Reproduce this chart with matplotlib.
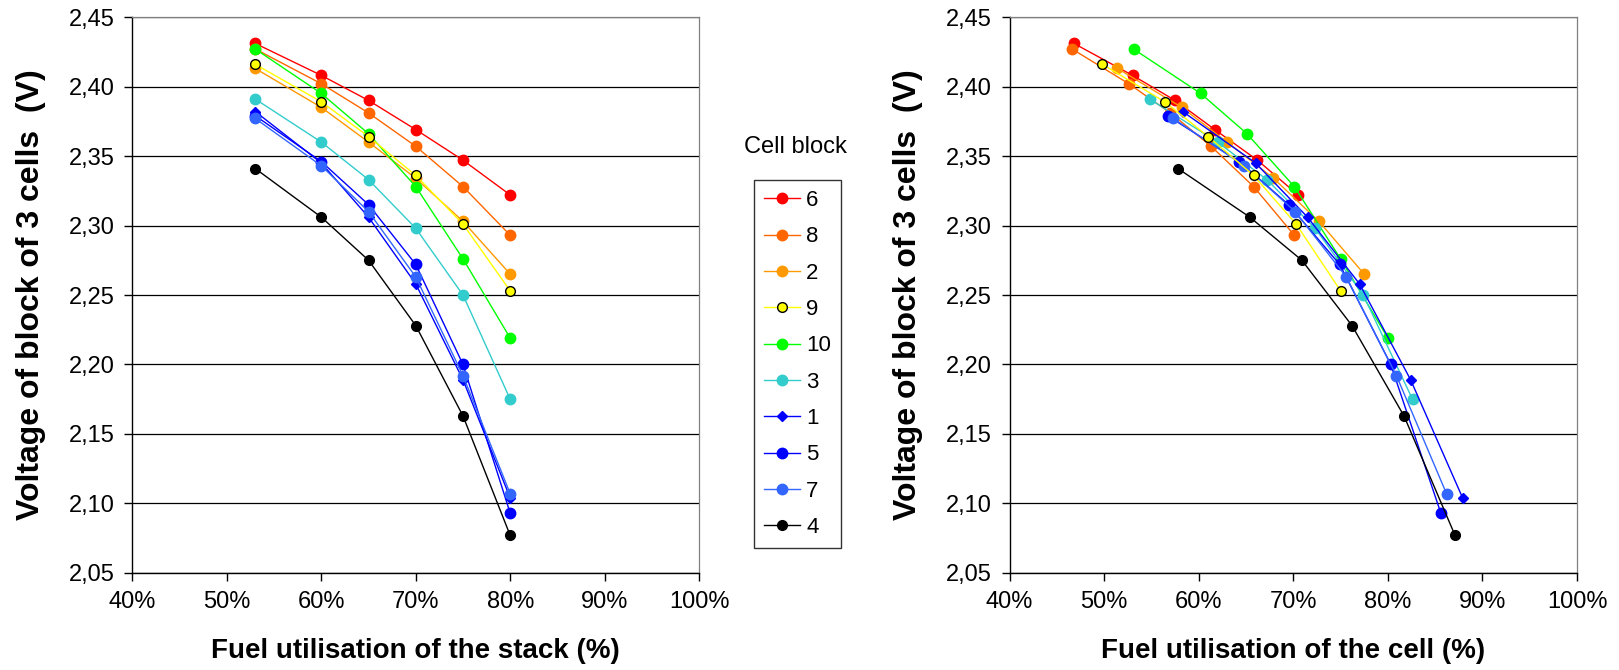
import matplotlib
matplotlib.use("Agg")
import matplotlib.pyplot as plt
from matplotlib.ticker import FixedLocator

plt.rcParams['font.family'] = ['Liberation Sans', 'DejaVu Sans']

# ---------------- data ----------------
blocks = ["6", "8", "2", "9", "10", "3", "1", "5", "7", "4"]

# fuel utilisation of the stack (%), same for every block
stack_util = [53, 60, 65, 70, 75, 80]

# voltage of block of 3 cells (V)
v6 = [2.431, 2.408, 2.390, 2.369, 2.347, 2.322]
v8 = [2.427, 2.402, 2.381, 2.357, 2.328, 2.293]
v2 = [2.413, 2.385, 2.360, 2.334, 2.303, 2.265]
v9 = [2.416, 2.389, 2.364, 2.336, 2.301, 2.253]
v10 = [2.427, 2.395, 2.366, 2.328, 2.276, 2.219]
v3 = [2.391, 2.360, 2.333, 2.298, 2.250, 2.175]
v1 = [2.382, 2.345, 2.306, 2.258, 2.189, 2.104]
v5 = [2.379, 2.346, 2.315, 2.272, 2.200, 2.093]
v7 = [2.377, 2.343, 2.310, 2.263, 2.192, 2.107]
v4 = [2.341, 2.306, 2.275, 2.228, 2.163, 2.077]

# fuel utilisation of the cell (%)
c6 = [46.8, 53.0, 57.5, 61.7, 66.2, 70.5]
c8 = [46.6, 52.6, 57.0, 61.3, 65.8, 70.1]
c2 = [51.4, 58.2, 63.0, 67.9, 72.7, 77.5]
c9 = [49.8, 56.4, 61.0, 65.8, 70.3, 75.0]
c10 = [53.1, 60.2, 65.1, 70.1, 75.0, 80.0]
c3 = [54.8, 62.0, 67.2, 72.3, 77.4, 82.6]
c1 = [58.3, 66.0, 71.5, 77.0, 82.4, 87.9]
c5 = [56.7, 64.3, 69.5, 74.9, 80.3, 85.6]
c7 = [57.3, 64.8, 70.2, 75.6, 80.9, 86.2]
c4 = [57.8, 65.4, 70.9, 76.2, 81.7, 87.1]

voltages = [v6, v8, v2, v9, v10, v3, v1, v5, v7, v4]
cell_util = [c6, c8, c2, c9, c10, c3, c1, c5, c7, c4]

x_ticks = [40, 50, 60, 70, 80, 90, 100]
y_ticks = [2.05, 2.10, 2.15, 2.20, 2.25, 2.30, 2.35, 2.40, 2.45]
x_ticklabels = ["40%", "50%", "60%", "70%", "80%", "90%", "100%"]
y_ticklabels = ["2,05", "2,10", "2,15", "2,20", "2,25", "2,30", "2,35", "2,40", "2,45"]

# ---------------- styles ----------------
colors = ["#FF0000", "#FF6600", "#FF9900", "#FFFF00", "#00FF00",
          "#33CCCC", "#0000FF", "#0000FF", "#3366FF", "#000000"]
markers = ["o", "o", "o", "o", "o", "o", "D", "o", "o", "o"]
msizes = [7.5, 7.5, 7.5, 7.0, 7.5, 7.5, 5.0, 7.5, 7.5, 7.0]
edgecols = ["#FF0000", "#FF6600", "#FF9900", "#000000", "#00FF00",
            "#33CCCC", "#0000FF", "#0000FF", "#3366FF", "#000000"]

fig = plt.figure(figsize=(16.19, 6.70), dpi=100)
ax1 = fig.add_axes([0.0818, 0.1448, 0.3500, 0.8298])
ax2 = fig.add_axes([0.6236, 0.1448, 0.3505, 0.8298])

def style_axis(ax, xlabel):
    ax.set_xlim(40, 100)
    ax.set_ylim(2.05, 2.45)
    ax.xaxis.set_major_locator(FixedLocator(x_ticks))
    ax.yaxis.set_major_locator(FixedLocator(y_ticks))
    ax.set_xticklabels(x_ticklabels, fontsize=17)
    ax.set_yticklabels(y_ticklabels, fontsize=17)
    ax.tick_params(axis="x", direction="out", length=6, width=1,
                   color="#000000", pad=7)
    ax.tick_params(axis="y", direction="out", length=5.5, width=1,
                   color="#000000", pad=7)
    ax.yaxis.grid(True, color="#000000", linewidth=0.9)
    ax.set_axisbelow(True)
    for s in ["left", "bottom"]:
        ax.spines[s].set_color("#000000")
        ax.spines[s].set_linewidth(1.0)
    for s in ["top", "right"]:
        ax.spines[s].set_color("#808080")
        ax.spines[s].set_linewidth(0.9)
    ax.set_xlabel(xlabel, fontsize=20, fontweight="bold", labelpad=18)
    ax.set_ylabel("Voltage of block of 3 cells  (V)", fontsize=23,
                  fontweight="bold", labelpad=17)

handles = []
for i, name in enumerate(blocks):
    h, = ax1.plot(stack_util, voltages[i], color=colors[i], lw=1.0,
                  marker=markers[i], ms=msizes[i], mfc=colors[i],
                  mec=edgecols[i], mew=1.0, label=name, zorder=3 + (i == 3))
    handles.append(h)
    ax2.plot(cell_util[i], voltages[i], color=colors[i], lw=1.0,
             marker=markers[i], ms=msizes[i], mfc=colors[i],
             mec=edgecols[i], mew=1.0, zorder=3 + (i == 3))

style_axis(ax1, "Fuel utilisation of the stack (%)")
style_axis(ax2, "Fuel utilisation of the cell (%)")

leg = fig.legend(handles=handles, loc="upper left",
                 bbox_to_anchor=(754 / 1619, 1 - 180 / 670),
                 frameon=True, fancybox=False, fontsize=16,
                 handlelength=1.6, handletextpad=0.3, labelspacing=0.69,
                 borderpad=0.45, borderaxespad=0.0)
leg.get_frame().set_edgecolor("#000000")
leg.get_frame().set_linewidth(1.0)

fig.text(795 / 1619, 1 - 147 / 670, "Cell block", ha="center", va="center",
         fontsize=17)

fig.savefig("out.png", dpi=100)
